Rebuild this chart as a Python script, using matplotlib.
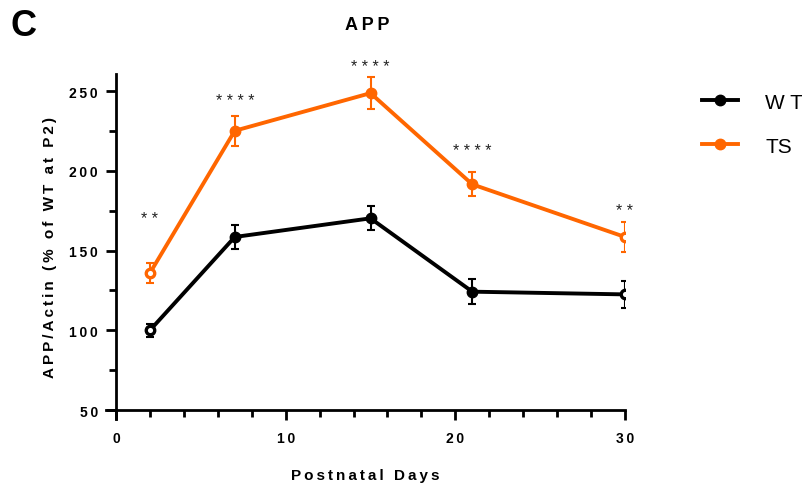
import matplotlib
matplotlib.use("Agg")
import matplotlib.pyplot as plt
from matplotlib.ticker import MultipleLocator
from matplotlib.lines import Line2D

plt.rcParams["font.family"] = ["Liberation Sans", "DejaVu Sans"]

# データ
days = [2, 7, 15, 21, 30]
wt_mean = [100, 158.5, 170.2, 124.2, 122.5]
wt_err = [4, 7.5, 7.5, 8, 8.5]
ts_mean = [135.9, 225.1, 248.7, 191.5, 158.5]
ts_err = [6.3, 9.4, 10, 7.5, 9.4]
stars = ["**", "****", "****", "****", "**"]
star_y = [170.4, 244, 265.7, 213, 175.4]
hollow_days = [2, 30]

ORANGE = "#ff6600"


def spaced(s):
    # Prism風の字間
    return "\u2009".join(s)


fig = plt.figure(figsize=(8.02, 4.89), dpi=100)
ax = fig.add_axes([106 / 802, 1 - 420 / 489, (625 - 106) / 802, (420 - 75) / 489])

for mean, err, col in [(wt_mean, wt_err, "black"), (ts_mean, ts_err, ORANGE)]:
    ax.errorbar(days, mean, yerr=err, color=col, lw=2.8, capsize=3, capthick=1.5,
                elinewidth=1.5, marker="o", ms=7.5, mec=col, mfc=col, zorder=3)
    # 白抜きマーカー
    hd = [d for d in days if d in hollow_days]
    hm = [m for d, m in zip(days, mean) if d in hollow_days]
    ax.plot(hd, hm, "o", ms=5.5, mfc="white", mec=col, mew=1.8, zorder=4)

# 有意差の星
for d, y, s in zip(days, star_y, stars):
    ax.text(d, y, " ".join(s), ha="center", va="center", fontsize=11.5, color="#222222", clip_on=False)

ax.set_xlim(-0.59, 30)
ax.set_ylim(44.36, 260.7)
ax.spines["top"].set_visible(False)
ax.spines["right"].set_visible(False)
ax.spines["left"].set_position(("data", 0))
ax.spines["bottom"].set_position(("data", 50))
ax.spines["left"].set_linewidth(2)
ax.spines["bottom"].set_linewidth(2)

ax.set_xticks([0, 10, 20, 30])
ax.set_yticks([50, 100, 150, 200, 250])
ax.xaxis.set_minor_locator(MultipleLocator(2))
ax.yaxis.set_minor_locator(MultipleLocator(25))
ax.set_xticklabels([spaced(str(v)) for v in [0, 10, 20, 30]], fontweight="bold", fontsize=10)
ax.set_yticklabels([spaced(str(v)) for v in [50, 100, 150, 200, 250]], fontweight="bold", fontsize=10)
ax.tick_params(which="major", length=7, width=2, pad=6)
ax.tick_params(which="minor", length=5, width=2)
ax.tick_params(axis="x", which="both", pad=8)

ax.set_xlabel(spaced("Postnatal Days"), fontweight="bold", fontsize=11, labelpad=17)
ax.set_ylabel(spaced("APP/Actin (% of WT at P2)"), fontweight="bold", fontsize=11, labelpad=9)

fig.text(367 / 802, 1 - 26 / 489, spaced("APP"), ha="center", va="center", fontweight="bold", fontsize=13)
fig.text(10 / 802, 1 - 27 / 489, "C", ha="left", va="center", fontweight="bold", fontsize=26)

handles = [Line2D([], [], color="black", lw=2.8, marker="o", ms=7.5),
           Line2D([], [], color=ORANGE, lw=2.8, marker="o", ms=7.5)]
ax.legend(handles, ["W T", "TS"], loc="upper left", bbox_to_anchor=(683 / 802, 1 - 75 / 489),
          bbox_transform=fig.transFigure, frameon=False, fontsize=15, handlelength=1.75,
          labelspacing=1.2, handletextpad=1.3)

fig.savefig("out.png", dpi=100)
